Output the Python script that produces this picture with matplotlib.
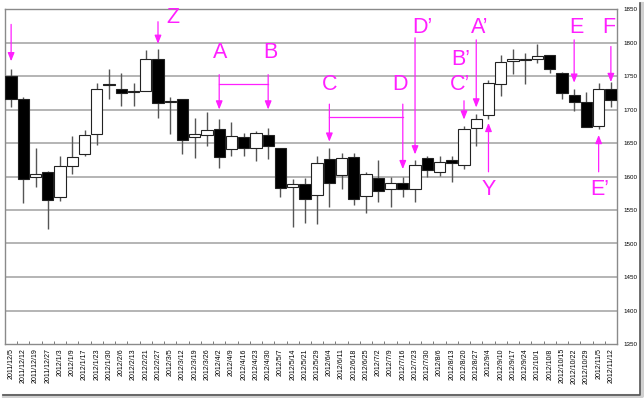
import matplotlib.pyplot as plt
from matplotlib.lines import Line2D

# weekly candles
dates = ["2011/12/5", "2011/12/12", "2011/12/19", "2011/12/27", "2012/1/3", "2012/1/9",
         "2012/1/17", "2012/1/23", "2012/1/30", "2012/2/6", "2012/2/13", "2012/2/21",
         "2012/2/27", "2012/3/5", "2012/3/12", "2012/3/19", "2012/3/26", "2012/4/2",
         "2012/4/9", "2012/4/16", "2012/4/23", "2012/4/30", "2012/5/7", "2012/5/14",
         "2012/5/21", "2012/5/29", "2012/6/4", "2012/6/11", "2012/6/18", "2012/6/25",
         "2012/7/2", "2012/7/9", "2012/7/16", "2012/7/23", "2012/7/30", "2012/8/6",
         "2012/8/13", "2012/8/20", "2012/8/27", "2012/9/4", "2012/9/10", "2012/9/17",
         "2012/9/24", "2012/10/1", "2012/10/8", "2012/10/15", "2012/10/22", "2012/10/29",
         "2012/11/5", "2012/11/12"]
opens = [1750, 1716, 1600, 1607, 1569, 1616, 1634, 1664, 1738, 1730, 1727, 1727,
         1775, 1712, 1715, 1659, 1662, 1671, 1641, 1659, 1643, 1662, 1642, 1585,
         1589, 1572, 1626, 1602, 1629, 1571, 1598, 1582, 1590, 1581, 1627, 1607,
         1624, 1617, 1672, 1692, 1738, 1773, 1775, 1775, 1781, 1755, 1722, 1711,
         1675, 1730]
highs = [1760, 1718, 1643, 1608, 1630, 1661, 1670, 1739, 1761, 1755, 1739, 1789,
         1791, 1718, 1716, 1687, 1696, 1686, 1681, 1665, 1668, 1672, 1643, 1597,
         1598, 1631, 1642, 1635, 1635, 1606, 1624, 1599, 1599, 1625, 1630, 1630,
         1630, 1676, 1694, 1744, 1781, 1790, 1785, 1798, 1782, 1756, 1730, 1726,
         1740, 1741]
lows = [1704, 1560, 1584, 1521, 1564, 1604, 1630, 1647, 1715, 1705, 1705, 1727,
        1687, 1663, 1634, 1627, 1645, 1612, 1631, 1631, 1623, 1626, 1570, 1525,
        1530, 1529, 1555, 1581, 1557, 1546, 1562, 1554, 1570, 1562, 1599, 1601,
        1592, 1611, 1646, 1686, 1720, 1753, 1738, 1769, 1754, 1715, 1698, 1674,
        1671, 1704]
closes = [1716, 1596, 1604, 1565, 1615, 1629, 1662, 1731, 1737, 1725, 1726, 1775,
          1709, 1711, 1655, 1663, 1669, 1629, 1660, 1643, 1665, 1645, 1583, 1589,
          1567, 1620, 1591, 1627, 1566, 1603, 1578, 1590, 1582, 1617, 1609, 1622,
          1620, 1671, 1686, 1740, 1771, 1776, 1774, 1780, 1760, 1724, 1711, 1674,
          1730, 1714]

# annotation letters: (text, candle position, price)
labels = [("Z", 13.2, 1838), ("A", 17.1, 1785), ("B", 21.2, 1785),
          ("C", 26.0, 1737), ("D", 31.8, 1737), ("D\u2019", 33.6, 1822),
          ("A\u2019", 38.3, 1822), ("B\u2019", 36.7, 1774), ("C\u2019", 36.7, 1737),
          ("Y", 39.0, 1580), ("E", 46.2, 1822), ("F", 48.8, 1822), ("E\u2019", 48.1, 1580)]
# arrows: (candle, start price, end price)
arrows = [(0, 1827, 1772), (12, 1831, 1798), (17, 1752, 1700), (21, 1752, 1700),
          (26, 1708, 1652), (32, 1708, 1611), (33, 1807, 1633), (38, 1804, 1703),
          (37, 1713, 1685), (39, 1607, 1680), (46, 1804, 1740), (49, 1794, 1741),
          (48, 1607, 1662)]
brackets = [(17, 21, 1738), (26, 32, 1689)]

magenta = "#ff1fff"
plt.rcParams['font.family'] = ['Liberation Sans', 'DejaVu Sans']

fig = plt.figure(figsize=(6.44, 3.98), dpi=100)
ax = fig.add_axes([5 / 644, 1 - 344 / 398, 612 / 644, 335 / 398])

x = list(range(len(dates)))
ax.vlines(x, lows, highs, color="#555555", lw=1, zorder=2)
for i in x:
    o, c = opens[i], closes[i]
    face = "black" if c < o else "white"
    h = abs(c - o) if abs(c - o) > 0.5 else 0.5
    ax.bar(i, h, bottom=min(o, c), width=0.92, color=face, edgecolor="#222222",
           linewidth=0.8, zorder=3)

for t, px, py in labels:
    ax.text(px, py, t, color=magenta, fontsize=15.5, ha="center", va="center", zorder=5)
for i, y0, y1 in arrows:
    ax.annotate("", xy=(i, y1), xytext=(i, y0),
                arrowprops=dict(arrowstyle="-|>,head_length=0.5,head_width=0.2",
                                color=magenta, lw=0.9, shrinkA=0, shrinkB=0), zorder=5)
for a, b, y in brackets:
    ax.plot([a, b], [y, y], color=magenta, lw=0.9, zorder=5)

ax.set_xlim(-0.5, len(dates) - 0.5)
ax.set_ylim(1350, 1850)
ax.set_yticks(range(1350, 1851, 50))
ax.yaxis.tick_right()
ax.tick_params(axis="y", length=0, pad=5, labelsize=4.5)
ax.set_xticks(x)
ax.set_xticklabels(dates, rotation=90, fontsize=5)
ax.tick_params(axis="x", length=0, pad=3)
ax.set_xticks([i + 0.5 for i in x[:-1]], minor=True)
ax.tick_params(axis="x", which="minor", direction="in", length=2.5, color="#666666")
for y in range(1400, 1850, 50):
    ax.axhline(y, color="#a0a0a0", lw=1.1, zorder=1)
for s in ax.spines.values():
    s.set_color("#8a8a8a")
    s.set_linewidth(1.0)

# drop shadow along the right and bottom edge of the picture
W, H = 644, 398
fig.lines.append(Line2D([4 / W, 641.5 / W, 641.5 / W], [1 - 396 / H, 1 - 396 / H, 1 - 4 / H],
                        transform=fig.transFigure, color="#d0d0d0", lw=3))
fig.lines.append(Line2D([3 / W, 640 / W, 640 / W], [1 - 394.5 / H, 1 - 394.5 / H, 1 - 3 / H],
                        transform=fig.transFigure, color="#555555", lw=1.2))

fig.savefig("out.png", dpi=100)
